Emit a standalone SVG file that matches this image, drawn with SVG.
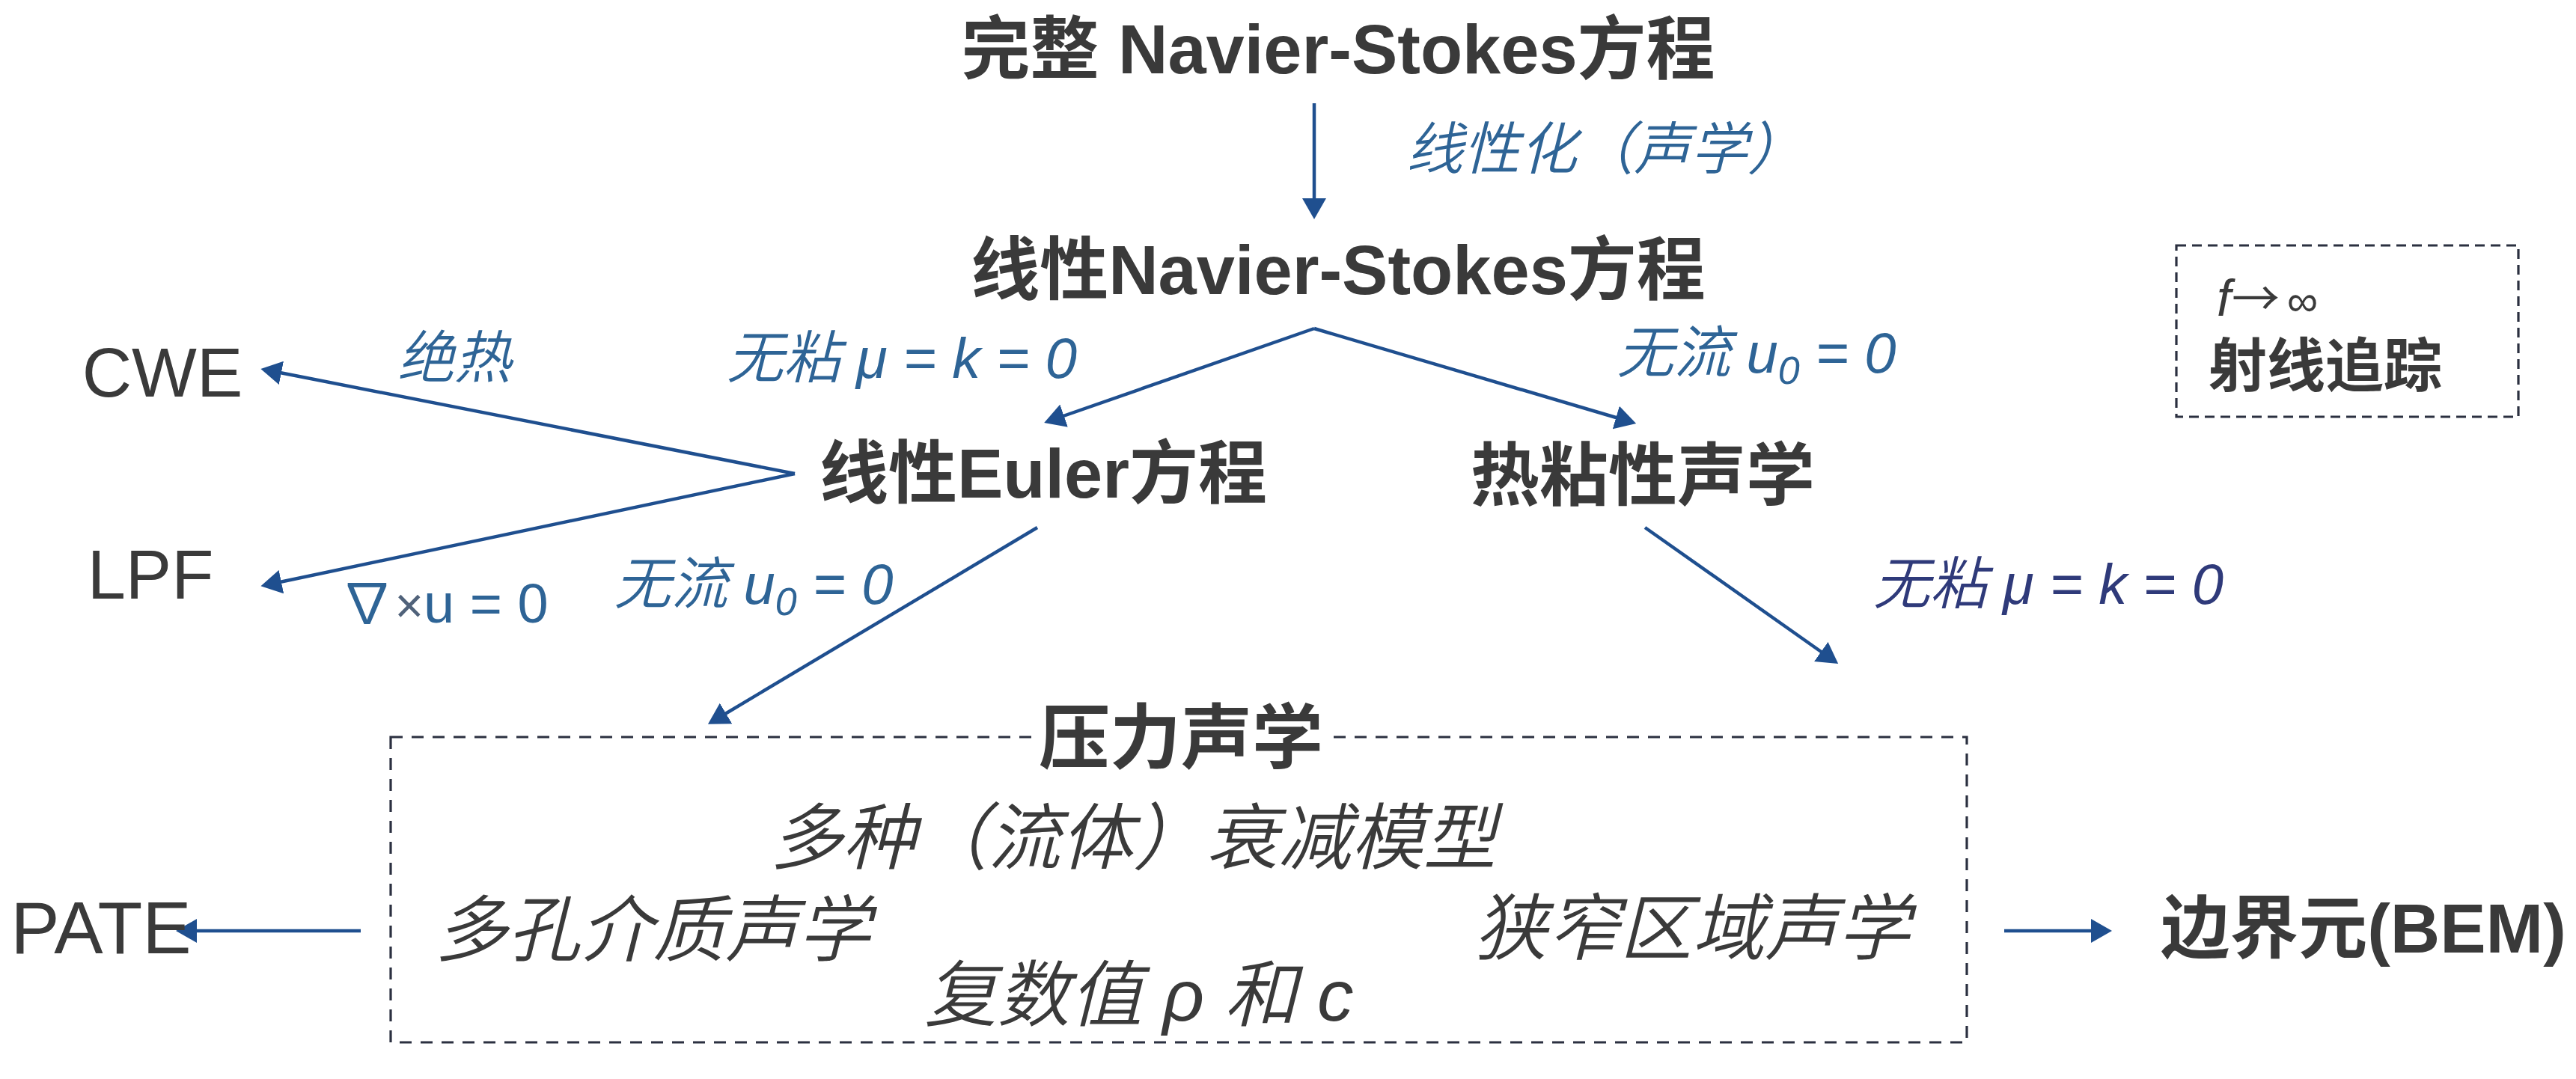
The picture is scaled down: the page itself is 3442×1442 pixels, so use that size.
<svg xmlns="http://www.w3.org/2000/svg" width="3442" height="1442" viewBox="0 0 3442 1442">
<style>
text{font-family:"Liberation Sans","Noto Sans CJK SC",sans-serif;}
.node{font-size:92px;font-weight:bold;fill:#3a3a3a;text-anchor:middle;}
.plain{font-size:92px;fill:#3a3a3a;text-anchor:middle;}
.lbl{font-size:76px;font-style:italic;font-weight:350;fill:#2e6496;text-anchor:middle;}
.lbl2{font-size:76px;font-style:italic;font-weight:350;fill:#2f3a7a;text-anchor:middle;}
.it{font-size:97px;font-style:italic;font-weight:350;fill:#3a3a3a;text-anchor:middle;}
.edge{stroke:#1f4f8f;stroke-width:4.5;fill:none;marker-end:url(#ah);}
.dash{fill:none;stroke:#2b3040;stroke-width:3.2;}
</style>
<defs>
<marker id="ah" markerUnits="userSpaceOnUse" viewBox="0 0 28 32" markerWidth="28" markerHeight="32" refX="7" refY="16" orient="auto">
<path d="M0,0 L28,16 L0,32 z" fill="#1f4f8f"/>
</marker>
</defs>
<rect width="3442" height="1442" fill="#ffffff"/>

<g id="connectors">
<line class="edge" x1="1756" y1="138" x2="1756" y2="272"/>
<line class="edge" x1="1756" y1="439" x2="1415" y2="558"/>
<line class="edge" x1="1756" y1="439" x2="2166" y2="560"/>
<line class="edge" x1="1062" y1="633" x2="369" y2="497"/>
<line class="edge" x1="1062" y1="633" x2="369" y2="779"/>
<line class="edge" x1="1386" y1="705" x2="964" y2="957"/>
<line class="edge" x1="2198" y1="705" x2="2439" y2="875"/>
<line class="edge" x1="482" y1="1244" x2="256" y2="1244"/>
<line class="edge" x1="2678" y1="1244" x2="2801" y2="1244"/>
<text class="lbl" x="2145" y="226">线性化（声学）</text>
<text class="lbl" x="607" y="505">绝热</text>
<text class="lbl" x="1205" y="505">无粘 μ = k = 0</text>
<text class="lbl" x="2347" y="498">无流 u<tspan font-size="52" dy="15">0</tspan><tspan dy="-15"> = 0</tspan></text>
<text class="lbl" x="1007" y="807">无流 u<tspan font-size="52" dy="15">0</tspan><tspan dy="-15"> = 0</tspan></text>
<text x="593" y="832" font-size="74" fill="#2e6496" text-anchor="middle" font-family="'DejaVu Sans','Liberation Sans',sans-serif">∇<tspan fill="#50627a" font-size="66">×</tspan><tspan font-family="'Liberation Sans',sans-serif">u = 0</tspan></text>
<text class="lbl2" x="2737" y="807">无粘 μ = k = 0</text>
</g>

<g id="full-ns"><text class="node" x="1788" y="98">完整 Navier-Stokes方程</text></g>
<g id="linear-ns"><text class="node" x="1788" y="393">线性Navier-Stokes方程</text></g>
<g id="cwe"><text class="plain" x="217" y="530">CWE</text></g>
<g id="lpf"><text class="plain" x="201" y="800">LPF</text></g>
<g id="linear-euler"><text class="node" x="1394" y="665">线性Euler方程</text></g>
<g id="thermoviscous"><text class="node" x="2195" y="668">热粘性声学</text></g>
<g id="ray-tracing">
<rect class="dash" x="2908" y="328" width="457" height="229" stroke-dasharray="13 8"/>
<text y="422" font-size="60" fill="#3a3a3a" font-family="'DejaVu Sans','Liberation Sans',sans-serif"><tspan x="2962" font-style="italic" font-family="'Liberation Sans',sans-serif" font-size="68">f</tspan><tspan x="2982" font-size="64" font-family="'Noto Sans CJK SC',sans-serif">→</tspan><tspan x="3056" font-size="58">∞</tspan></text>
<text class="node" x="3107" y="517" style="font-size:78px">射线追踪</text>
</g>
<g id="pressure-acoustics">
<rect class="dash" x="522" y="985" width="2106" height="408" stroke-dasharray="16 12"/>
<rect x="1382" y="975" width="392" height="20" fill="#ffffff"/>
<text class="node" x="1578" y="1020" style="font-size:95px">压力声学</text>
<text class="it" x="1514" y="1154">多种（流体）衰减模型</text>
<text class="it" x="872" y="1277">多孔介质声学</text>
<text class="it" x="1522" y="1364">复数值 ρ 和 c</text>
<text class="it" x="2261" y="1275">狭窄区域声学</text>
</g>
<g id="pate"><text class="plain" x="135" y="1274" style="font-size:98px">PATE</text></g>
<g id="bem"><text class="node" x="3158" y="1273">边界元(BEM)</text></g>
</svg>
